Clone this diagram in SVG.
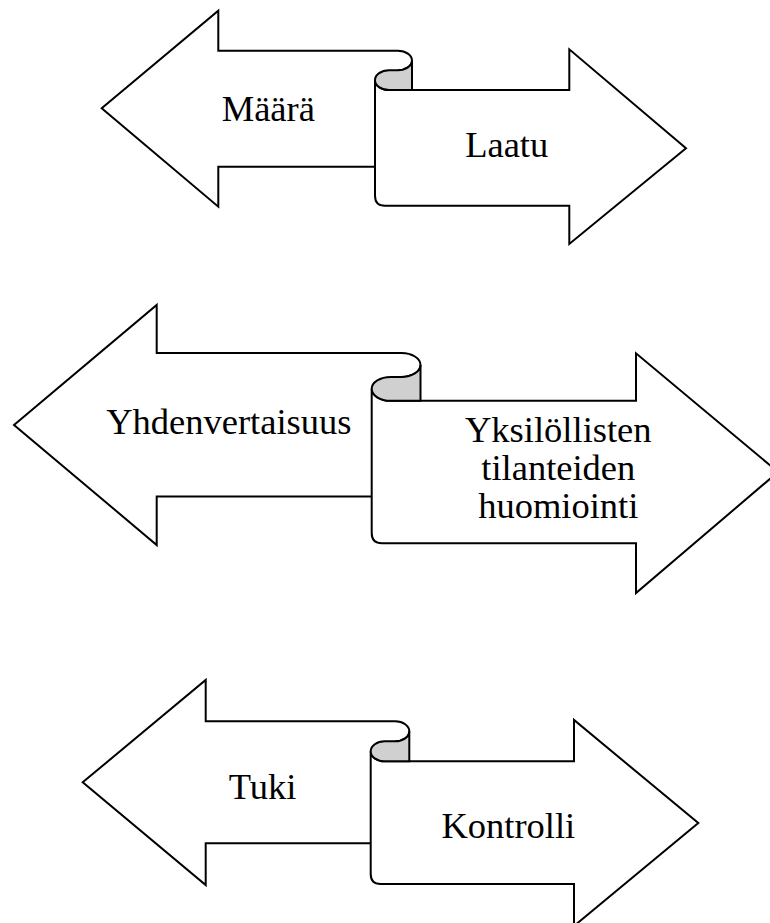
<svg xmlns="http://www.w3.org/2000/svg" width="770" height="923" viewBox="0 0 770 923">
<style>
.shape{fill:#ffffff;stroke:#000000;stroke-width:2;stroke-linejoin:miter}
.back{fill:#d0d0d0;stroke:#000000;stroke-width:2}
.lbl{font-family:"Liberation Serif","Times New Roman",serif;font-size:36.5px;fill:#000000;text-anchor:middle}
</style>
<rect width="770" height="923" fill="#ffffff"/>
<g id="connectors"/>
<g id="maara">
<path class="shape" d="M375,166.7 H218.3 V206.7 L101.7,108.3 L218.3,10.7 V50.7 H398 A14,9.8 0 0 1 398,70.3"/>
<text class="lbl" x="268.3" y="120.7">Määrä</text>
</g>
<g id="laatu">
<path class="shape" d="M389,90 H569.3 V49.3 L686,148.3 L569.3,244 V205.7 H385 Q375,205.7 375,195.7 V80.15 A14,9.85 0 0 0 389,90 Z"/>
<path class="back" d="M412,60.5 V90 H389 A14,9.85 0 0 1 375,80.15 A14,9.85 0 0 1 389,70.3 H398 A14,9.8 0 0 0 412,60.5 Z"/>
<text class="lbl" x="506.7" y="157.3">Laatu</text>
</g>
<g id="yhdenvertaisuus">
<path class="shape" d="M371.7,496.5 H156.7 V545 L14,425 L156.7,305 V353 H401.5 A19,11.95 0 0 1 401.5,376.9"/>
<text class="lbl" x="228.8" y="434">Yhdenvertaisuus</text>
</g>
<g id="yksilolliset">
<path class="shape" d="M390.7,400.8 H636 V353.3 L778,472 L636,593 V543.3 H382 Q371.7,543.3 371.7,533 V388.85 A19,11.95 0 0 0 390.7,400.8 Z"/>
<path class="back" d="M420.5,364.95 V400.8 H390.7 A19,11.95 0 0 1 371.7,388.85 A19,11.95 0 0 1 390.7,376.9 H401.5 A19,11.95 0 0 0 420.5,364.95 Z"/>
<text class="lbl" x="558.3" y="441.7">Yksilöllisten</text>
<text class="lbl" x="558.3" y="480">tilanteiden</text>
<text class="lbl" x="558.3" y="518.3">huomiointi</text>
</g>
<g id="tuki">
<path class="shape" d="M370.7,843.3 H205.7 V885 L82.7,782.3 L205.7,680 V721.3 H395.3 A14,10 0 0 1 395.3,741.3"/>
<text class="lbl" x="262.5" y="799.3">Tuki</text>
</g>
<g id="kontrolli">
<path class="shape" d="M384.7,761.3 H574 V720 L698.3,823 L574,926 V884 H380.7 Q370.7,884 370.7,874 V751.3 A14,10 0 0 0 384.7,761.3 Z"/>
<path class="back" d="M409.3,731.3 V761.3 H384.7 A14,10 0 0 1 370.7,751.3 A14,10 0 0 1 384.7,741.3 H395.3 A14,10 0 0 0 409.3,731.3 Z"/>
<text class="lbl" x="508.3" y="838.3">Kontrolli</text>
</g>
</svg>
